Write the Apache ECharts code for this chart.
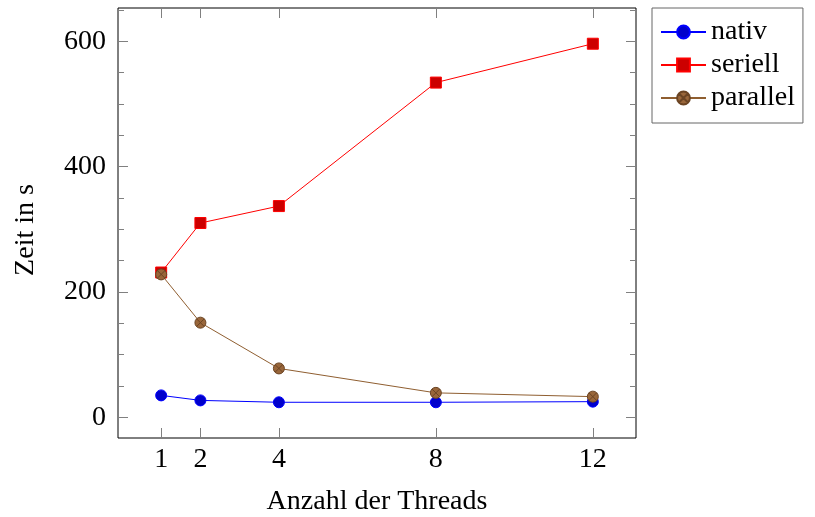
<!DOCTYPE html>
<html>
<head>
<meta charset="utf-8">
<script src="https://cdn.jsdelivr.net/npm/echarts@6/dist/echarts.min.js"></script>
<style>
html, body { margin: 0; padding: 0; background: #fff; }
#main { width: 815px; height: 517px; }
</style>
</head>
<body>
<div id="main"></div>
<script>
// Daten
var threads = [1, 2, 4, 8, 12];
var nativ = [35, 27, 24, 24, 25];
var seriell = [231, 310, 337, 534, 596];
var parallel = [228, 151, 78, 39, 33];
var yMajor = [0, 200, 400, 600];
var yMinor = [50, 100, 150, 250, 300, 350, 450, 500, 550, 650];

var xMin = -0.1, xMax = 13.1, yMin = -33, yMax = 653;
var font = 'Liberation Serif';
var tickColor = '#808080';

function pairs(ys) {
    return threads.map(function (x, i) { return [x, ys[i]]; });
}

// otimes* Marke
var otimes = 'path://M0,-10A10,10 0 1,1 0,10A10,10 0 1,1 0,-10ZM-7.07,-7.07L7.07,7.07M-7.07,7.07L7.07,-7.07';

function xAx(pos, withLabel) {
    return {
        type: 'value', min: xMin, max: xMax, position: pos,
        axisLine: { show: false, onZero: false },
        splitLine: { show: false },
        axisTick: { show: true, inside: true, length: 10, customValues: threads,
            lineStyle: { color: tickColor, width: 1 } },
        axisLabel: { show: withLabel, customValues: threads, margin: 8,
            fontFamily: font, fontSize: 28, color: '#000' },
        name: withLabel ? 'Anzahl der Threads' : '',
        nameLocation: 'middle', nameGap: 50,
        nameTextStyle: { fontFamily: font, fontSize: 28, color: '#000' }
    };
}

function yAx(pos, ticks, len, withLabel) {
    return {
        type: 'value', min: yMin, max: yMax, position: pos,
        axisLine: { show: false, onZero: false },
        splitLine: { show: false },
        axisTick: { show: true, inside: true, length: len, customValues: ticks,
            lineStyle: { color: tickColor, width: 1 } },
        axisLabel: { show: withLabel, customValues: ticks, margin: 12,
            fontFamily: font, fontSize: 28, color: '#000' },
        name: withLabel ? 'Zeit in s' : '',
        nameLocation: 'middle', nameGap: 78,
        nameTextStyle: { fontFamily: font, fontSize: 28, color: '#000', padding: [0, 14, 0, 0] }
    };
}

var myChart = echarts.init(document.getElementById('main'));
var option = {
    animation: false,
    backgroundColor: '#fff',
    grid: {
        left: 118, right: 179, top: 8, bottom: 79,
        outerBoundsMode: 'none', containLabel: false,
        show: true, borderColor: '#000', borderWidth: 1, backgroundColor: 'transparent'
    },
    legend: {
        orient: 'vertical',
        left: 652, top: 8,
        padding: [10, 8, 11, 8],
        borderColor: '#666', borderWidth: 1,
        itemWidth: 45, itemHeight: 16, itemGap: 5,
        textStyle: { fontFamily: font, fontSize: 28, color: '#000', lineHeight: 28 },
        data: ['nativ', 'seriell', 'parallel']
    },
    xAxis: [xAx('bottom', true), xAx('top', false)],
    yAxis: [
        yAx('left', yMajor, 10, true),
        yAx('right', yMajor, 10, false),
        yAx('left', yMinor, 6, false),
        yAx('right', yMinor, 6, false)
    ],
    series: [
        {
            name: 'nativ', type: 'line', data: pairs(nativ),
            symbol: 'circle', symbolSize: 11,
            lineStyle: { color: '#0000ff', width: 1 },
            itemStyle: { color: '#0000cc', borderColor: '#0000ff', borderWidth: 1 }
        },
        {
            name: 'seriell', type: 'line', data: pairs(seriell),
            symbol: 'rect', symbolSize: 11,
            lineStyle: { color: '#ff0000', width: 1 },
            itemStyle: { color: '#cc0000', borderColor: '#ff0000', borderWidth: 1 }
        },
        {
            name: 'parallel', type: 'line', data: pairs(parallel),
            symbol: otimes, symbolSize: 11,
            lineStyle: { color: '#8f5e30', width: 1 },
            itemStyle: { color: '#99663a', borderColor: '#6b4423', borderWidth: 1 }
        }
    ]
};
myChart.setOption(option);
</script>
</body>
</html>
